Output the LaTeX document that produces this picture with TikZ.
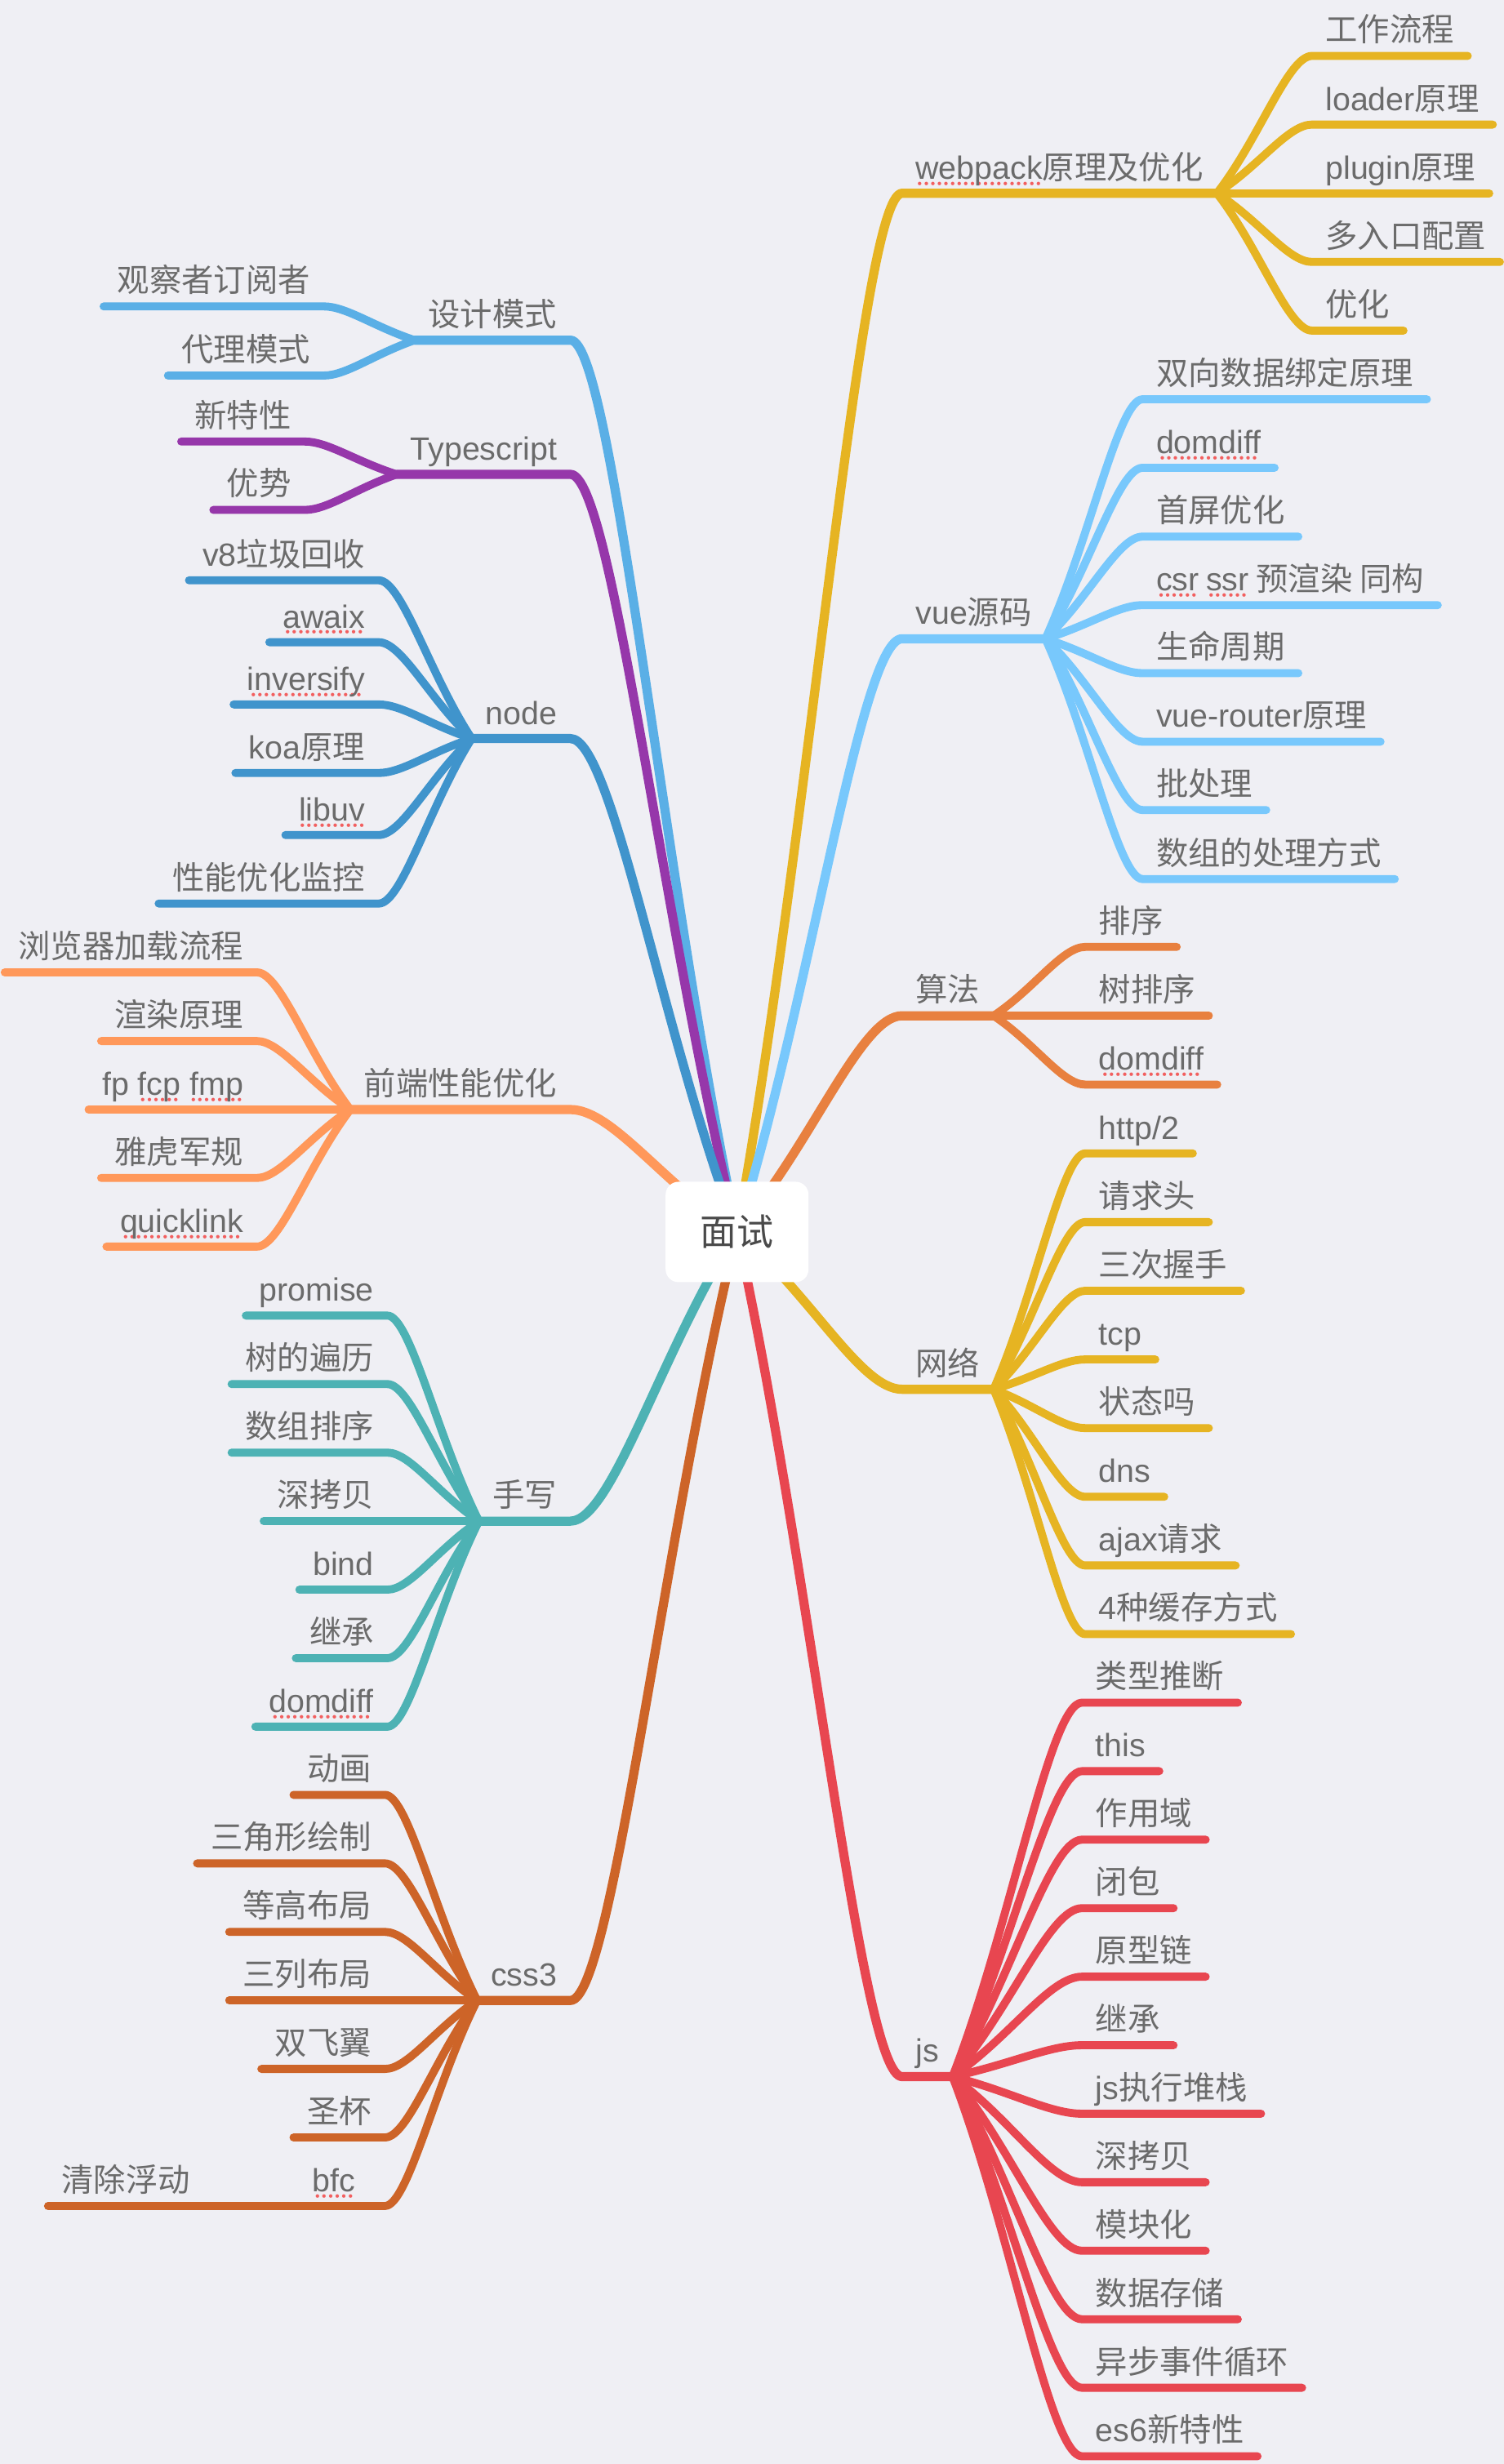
\documentclass[tikz,border=0pt]{standalone}
\usepackage{fontspec}
\setmainfont{Noto Sans CJK SC}
\newfontfamily\en{Liberation Sans}
\usepackage{xcolor}
\usepackage{tikz}
\usetikzlibrary{calc}

\definecolor{paper}{HTML}{EFEFF4}
\definecolor{ink}{HTML}{6B6B6B}
\definecolor{rootink}{HTML}{4A4A4A}
\definecolor{spell}{HTML}{F25F5F}
\definecolor{webgold}{HTML}{E6B422}
\definecolor{vueblue}{HTML}{78C8FC}
\definecolor{algorange}{HTML}{E8803F}
\definecolor{jsred}{HTML}{E84650}
\definecolor{desblue}{HTML}{5AAFE6}
\definecolor{tspurple}{HTML}{9637AA}
\definecolor{nodeblue}{HTML}{4094CC}
\definecolor{perforange}{HTML}{FF985A}
\definecolor{handteal}{HTML}{4DB2B4}
\definecolor{cssorange}{HTML}{CD6428}

% red dotted spell mark under a latin word
\newcommand{\spl}[1]{\setbox0=\hbox{\en #1}\rlap{\raisebox{-6.2pt}{\hbox to \wd0{\color{spell}\cleaders\hbox to 4.6pt{\hss\en\fontsize{9pt}{9pt}\selectfont •\hss}\hfill}}}\box0\relax}

\begin{document}
\begin{tikzpicture}[x=0.0385cm, y=0.0385cm,
		root/.style={fill=white, rounded corners=9pt, minimum width=3.5cm, minimum height=2.46cm, inner sep=0pt, text=rootink, font=\fontsize{25.6pt}{30pt}\selectfont},
		topic/.style={text=ink, font=\fontsize{22.4pt}{26pt}\selectfont, inner xsep=9.3pt, inner ysep=0pt, text height=16pt, text depth=9.8pt},
		main/.style={line width=6.4pt, line cap=round, line join=round},
		twig/.style={line width=5.6pt, line cap=round, line join=round},
		branch/.style={to path={let \p1=(\tikztostart), \p2=(\tikztotarget) in
			.. controls ({\x1+0.45*(\x2-\x1)}, {\y1+0.4*(\y2-\y1)}) and ({\x2-0.25*(\x2-\x1)}, {\y2}) .. (\tikztotarget)}}]
		\fill[paper] (0, 0) rectangle (957, 1568);
		\useasboundingbox (0, 0) rectangle (957, 1568);
		\coordinate (hub) at (469, 784);
		% Right hand topics:
		\node[topic, anchor=south west] (web) at (574, 1445) {\spl{webpack}原理及优化};
		\node[topic, anchor=south west] (w1) at (834.8, 1532.4) {工作流程};
		\node[topic, anchor=south west] (w2) at (834.8, 1488.7) {{\en loader}原理};
		\node[topic, anchor=south west] (w3) at (834.8, 1445) {{\en plugin}原理};
		\node[topic, anchor=south west] (w4) at (834.8, 1401.3) {多入口配置};
		\node[topic, anchor=south west] (w5) at (834.8, 1357.6) {优化};
		\node[topic, anchor=south west] (vue) at (574, 1161.5) {{\en vue}源码};
		\node[topic, anchor=south west] (v1) at (727, 1313.9) {双向数据绑定原理};
		\node[topic, anchor=south west] (v2) at (727, 1270.3) {\spl{domdiff}};
		\node[topic, anchor=south west] (v3) at (727, 1226.5) {首屏优化};
		\node[topic, anchor=south west] (v4) at (727, 1182.9) {\spl{csr} \spl{ssr} 预渲染 同构};
		\node[topic, anchor=south west] (v5) at (727, 1139.6) {生命周期};
		\node[topic, anchor=south west] (v6) at (727, 1096) {{\en vue-router}原理};
		\node[topic, anchor=south west] (v7) at (727, 1052.5) {批处理};
		\node[topic, anchor=south west] (v8) at (727, 1008.6) {数组的处理方式};
		\node[topic, anchor=south west] (alg) at (574, 921.6) {算法};
		\node[topic, anchor=south west] (a1) at (690.5, 965.4) {排序};
		\node[topic, anchor=south west] (a2) at (690.5, 921.6) {树排序};
		\node[topic, anchor=south west] (a3) at (690.5, 877.8) {\spl{domdiff}};
		\node[topic, anchor=south west] (net) at (574, 683.9) {网络};
		\node[topic, anchor=south west] (n1) at (690.5, 834) {{\en http/2}};
		\node[topic, anchor=south west] (n2) at (690.5, 790.3) {请求头};
		\node[topic, anchor=south west] (n3) at (690.5, 746.6) {三次握手};
		\node[topic, anchor=south west] (n4) at (690.5, 702.9) {{\en tcp}};
		\node[topic, anchor=south west] (n5) at (690.5, 659.2) {状态吗};
		\node[topic, anchor=south west] (n6) at (690.5, 615.5) {{\en dns}};
		\node[topic, anchor=south west] (n7) at (690.5, 571.8) {{\en ajax}请求};
		\node[topic, anchor=south west] (n8) at (690.5, 528.1) {{\en 4}种缓存方式};
		\node[topic, anchor=south west] (js) at (574, 246.5) {{\en js}};
		\node[topic, anchor=south west] (j1) at (688.5, 484.5) {类型推断};
		\node[topic, anchor=south west] (j2) at (688.5, 440.9) {{\en this}};
		\node[topic, anchor=south west] (j3) at (688.5, 397.3) {作用域};
		\node[topic, anchor=south west] (j4) at (688.5, 353.7) {闭包};
		\node[topic, anchor=south west] (j5) at (688.5, 310.1) {原型链};
		\node[topic, anchor=south west] (j6) at (688.5, 266.5) {继承};
		\node[topic, anchor=south west] (j7) at (688.5, 222.9) {{\en js}执行堆栈};
		\node[topic, anchor=south west] (j8) at (688.5, 179.3) {深拷贝};
		\node[topic, anchor=south west] (j9) at (688.5, 135.7) {模块化};
		\node[topic, anchor=south west] (j10) at (688.5, 92.1) {数据存储};
		\node[topic, anchor=south west] (j11) at (688.5, 48.5) {异步事件循环};
		\node[topic, anchor=south west] (j12) at (688.5, 4.9) {{\en es6}新特性};
		% Left hand topics:
		\node[topic, anchor=south east] (des) at (363, 1351.5) {设计模式};
		\node[topic, anchor=south east] (d1) at (206, 1373) {观察者订阅者};
		\node[topic, anchor=south east] (d2) at (206, 1329) {代理模式};
		\node[topic, anchor=south east] (ts) at (363, 1266.1) {{\en Typescript}};
		\node[topic, anchor=south east] (t1) at (194, 1287) {新特性};
		\node[topic, anchor=south east] (t2) at (194, 1243.5) {优势};
		\node[topic, anchor=south east] (nd) at (363, 1098) {{\en node}};
		\node[topic, anchor=south east] (o1) at (241, 1198.7) {{\en v8}垃圾回收};
		\node[topic, anchor=south east] (o2) at (241, 1159.3) {\spl{awaix}};
		\node[topic, anchor=south east] (o3) at (241, 1119.7) {\spl{inversify}};
		\node[topic, anchor=south east] (o4) at (241, 1076.1) {{\en koa}原理};
		\node[topic, anchor=south east] (o5) at (241, 1036.6) {\spl{libuv}};
		\node[topic, anchor=south east] (o6) at (241, 993) {性能优化监控};
		\node[topic, anchor=south east] (perf) at (363, 861.9) {前端性能优化};
		\node[topic, anchor=south east] (p1) at (163.5, 949.2) {浏览器加载流程};
		\node[topic, anchor=south east] (p2) at (163.5, 905.5) {渲染原理};
		\node[topic, anchor=south east] (p3) at (163.5, 861.9) {{\en fp \spl{fcp} \spl{fmp}}};
		\node[topic, anchor=south east] (p4) at (163.5, 818.4) {雅虎军规};
		\node[topic, anchor=south east] (p5) at (163.5, 774.7) {\spl{quicklink}};
		\node[topic, anchor=south east] (hand) at (363, 600) {手写};
		\node[topic, anchor=south east] (h1) at (246.5, 730.8) {{\en promise}};
		\node[topic, anchor=south east] (h2) at (246.5, 687.2) {树的遍历};
		\node[topic, anchor=south east] (h3) at (246.5, 643.6) {数组排序};
		\node[topic, anchor=south east] (h4) at (246.5, 600) {深拷贝};
		\node[topic, anchor=south east] (h5) at (246.5, 556.4) {{\en bind}};
		\node[topic, anchor=south east] (h6) at (246.5, 512.8) {继承};
		\node[topic, anchor=south east] (h7) at (246.5, 469.2) {\spl{domdiff}};
		\node[topic, anchor=south east] (css) at (363, 295) {{\en css3}};
		\node[topic, anchor=south east] (c1) at (245, 425.8) {动画};
		\node[topic, anchor=south east] (c2) at (245, 382.2) {三角形绘制};
		\node[topic, anchor=south east] (c3) at (245, 338.6) {等高布局};
		\node[topic, anchor=south east] (c4) at (245, 295) {三列布局};
		\node[topic, anchor=south east] (c5) at (245, 251.4) {双飞翼};
		\node[topic, anchor=south east] (c6) at (245, 207.8) {圣杯};
		\node[topic, anchor=south east, text width=41pt] (c7) at (245, 164.2) {\spl{bfc}};
		\node[topic, anchor=south east] (c8) at (129.7, 164.2) {清除浮动};
		% Branches:
		\draw[main, webgold] (hub) to[branch] (web.south west) -- (web.south east);
		\draw[twig, webgold] (web.south east) to[branch] (w1.south west) -- (w1.south east);
		\draw[twig, webgold] (web.south east) to[branch] (w2.south west) -- (w2.south east);
		\draw[twig, webgold] (web.south east) to[branch] (w3.south west) -- (w3.south east);
		\draw[twig, webgold] (web.south east) to[branch] (w4.south west) -- (w4.south east);
		\draw[twig, webgold] (web.south east) to[branch] (w5.south west) -- (w5.south east);
		\draw[main, vueblue] (hub) to[branch] (vue.south west) -- (vue.south east);
		\draw[twig, vueblue] (vue.south east) to[branch] (v1.south west) -- (v1.south east);
		\draw[twig, vueblue] (vue.south east) to[branch] (v2.south west) -- (v2.south east);
		\draw[twig, vueblue] (vue.south east) to[branch] (v3.south west) -- (v3.south east);
		\draw[twig, vueblue] (vue.south east) to[branch] (v4.south west) -- (v4.south east);
		\draw[twig, vueblue] (vue.south east) to[branch] (v5.south west) -- (v5.south east);
		\draw[twig, vueblue] (vue.south east) to[branch] (v6.south west) -- (v6.south east);
		\draw[twig, vueblue] (vue.south east) to[branch] (v7.south west) -- (v7.south east);
		\draw[twig, vueblue] (vue.south east) to[branch] (v8.south west) -- (v8.south east);
		\draw[main, algorange] (hub) to[branch] (alg.south west) -- (alg.south east);
		\draw[twig, algorange] (alg.south east) to[branch] (a1.south west) -- (a1.south east);
		\draw[twig, algorange] (alg.south east) to[branch] (a2.south west) -- (a2.south east);
		\draw[twig, algorange] (alg.south east) to[branch] (a3.south west) -- (a3.south east);
		\draw[main, webgold] (hub) to[branch] (net.south west) -- (net.south east);
		\draw[twig, webgold] (net.south east) to[branch] (n1.south west) -- (n1.south east);
		\draw[twig, webgold] (net.south east) to[branch] (n2.south west) -- (n2.south east);
		\draw[twig, webgold] (net.south east) to[branch] (n3.south west) -- (n3.south east);
		\draw[twig, webgold] (net.south east) to[branch] (n4.south west) -- (n4.south east);
		\draw[twig, webgold] (net.south east) to[branch] (n5.south west) -- (n5.south east);
		\draw[twig, webgold] (net.south east) to[branch] (n6.south west) -- (n6.south east);
		\draw[twig, webgold] (net.south east) to[branch] (n7.south west) -- (n7.south east);
		\draw[twig, webgold] (net.south east) to[branch] (n8.south west) -- (n8.south east);
		\draw[main, jsred] (hub) to[branch] (js.south west) -- (js.south east);
		\draw[twig, jsred] (js.south east) to[branch] (j1.south west) -- (j1.south east);
		\draw[twig, jsred] (js.south east) to[branch] (j2.south west) -- (j2.south east);
		\draw[twig, jsred] (js.south east) to[branch] (j3.south west) -- (j3.south east);
		\draw[twig, jsred] (js.south east) to[branch] (j4.south west) -- (j4.south east);
		\draw[twig, jsred] (js.south east) to[branch] (j5.south west) -- (j5.south east);
		\draw[twig, jsred] (js.south east) to[branch] (j6.south west) -- (j6.south east);
		\draw[twig, jsred] (js.south east) to[branch] (j7.south west) -- (j7.south east);
		\draw[twig, jsred] (js.south east) to[branch] (j8.south west) -- (j8.south east);
		\draw[twig, jsred] (js.south east) to[branch] (j9.south west) -- (j9.south east);
		\draw[twig, jsred] (js.south east) to[branch] (j10.south west) -- (j10.south east);
		\draw[twig, jsred] (js.south east) to[branch] (j11.south west) -- (j11.south east);
		\draw[twig, jsred] (js.south east) to[branch] (j12.south west) -- (j12.south east);
		\draw[main, desblue] (hub) to[branch] (des.south east) -- (des.south west);
		\draw[twig, desblue] (des.south west) to[branch] (d1.south east) -- (d1.south west);
		\draw[twig, desblue] (des.south west) to[branch] (d2.south east) -- (d2.south west);
		\draw[main, tspurple] (hub) to[branch] (ts.south east) -- (ts.south west);
		\draw[twig, tspurple] (ts.south west) to[branch] (t1.south east) -- (t1.south west);
		\draw[twig, tspurple] (ts.south west) to[branch] (t2.south east) -- (t2.south west);
		\draw[main, nodeblue] (hub) to[branch] (nd.south east) -- (nd.south west);
		\draw[twig, nodeblue] (nd.south west) to[branch] (o1.south east) -- (o1.south west);
		\draw[twig, nodeblue] (nd.south west) to[branch] (o2.south east) -- (o2.south west);
		\draw[twig, nodeblue] (nd.south west) to[branch] (o3.south east) -- (o3.south west);
		\draw[twig, nodeblue] (nd.south west) to[branch] (o4.south east) -- (o4.south west);
		\draw[twig, nodeblue] (nd.south west) to[branch] (o5.south east) -- (o5.south west);
		\draw[twig, nodeblue] (nd.south west) to[branch] (o6.south east) -- (o6.south west);
		\draw[main, perforange] (hub) to[branch] (perf.south east) -- (perf.south west);
		\draw[twig, perforange] (perf.south west) to[branch] (p1.south east) -- (p1.south west);
		\draw[twig, perforange] (perf.south west) to[branch] (p2.south east) -- (p2.south west);
		\draw[twig, perforange] (perf.south west) to[branch] (p3.south east) -- (p3.south west);
		\draw[twig, perforange] (perf.south west) to[branch] (p4.south east) -- (p4.south west);
		\draw[twig, perforange] (perf.south west) to[branch] (p5.south east) -- (p5.south west);
		\draw[main, handteal] (hub) to[branch] (hand.south east) -- (hand.south west);
		\draw[twig, handteal] (hand.south west) to[branch] (h1.south east) -- (h1.south west);
		\draw[twig, handteal] (hand.south west) to[branch] (h2.south east) -- (h2.south west);
		\draw[twig, handteal] (hand.south west) to[branch] (h3.south east) -- (h3.south west);
		\draw[twig, handteal] (hand.south west) to[branch] (h4.south east) -- (h4.south west);
		\draw[twig, handteal] (hand.south west) to[branch] (h5.south east) -- (h5.south west);
		\draw[twig, handteal] (hand.south west) to[branch] (h6.south east) -- (h6.south west);
		\draw[twig, handteal] (hand.south west) to[branch] (h7.south east) -- (h7.south west);
		\draw[main, cssorange] (hub) to[branch] (css.south east) -- (css.south west);
		\draw[twig, cssorange] (css.south west) to[branch] (c1.south east) -- (c1.south west);
		\draw[twig, cssorange] (css.south west) to[branch] (c2.south east) -- (c2.south west);
		\draw[twig, cssorange] (css.south west) to[branch] (c3.south east) -- (c3.south west);
		\draw[twig, cssorange] (css.south west) to[branch] (c4.south east) -- (c4.south west);
		\draw[twig, cssorange] (css.south west) to[branch] (c5.south east) -- (c5.south west);
		\draw[twig, cssorange] (css.south west) to[branch] (c6.south east) -- (c6.south west);
		\draw[twig, cssorange] (css.south west) to[branch] (c7.south east) -- (c7.south west);
		\draw[twig, cssorange] (c7.south west) to[branch] (c8.south east) -- (c8.south west);
		% Centre:
		\node[root] (root) at (hub) {面试};
	\end{tikzpicture}
\end{document}
